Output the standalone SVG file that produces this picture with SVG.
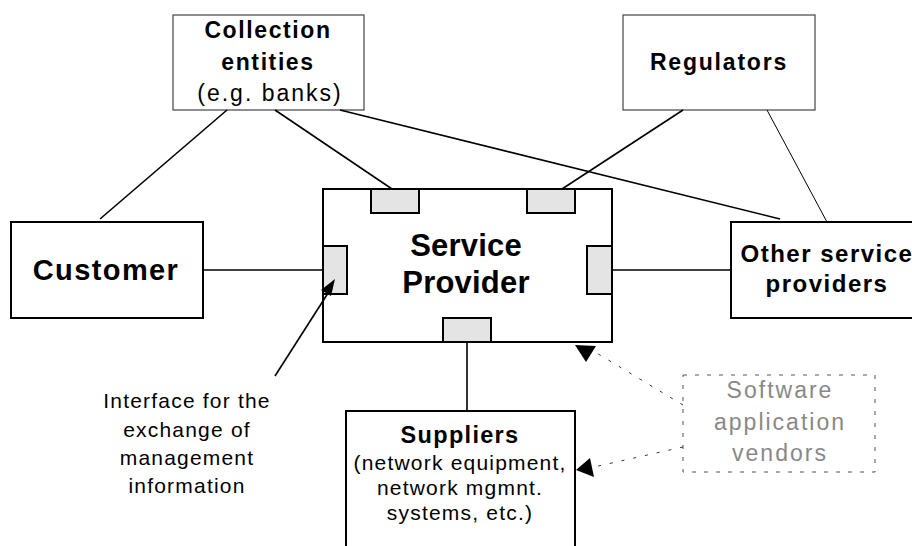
<svg xmlns="http://www.w3.org/2000/svg" width="912" height="546" viewBox="0 0 912 546">
<style>
text{font-family:"Liberation Sans",Arial,sans-serif;fill:#000;text-anchor:middle}
.b{font-weight:bold}
.box{fill:#fff;stroke:#000;stroke-width:2}
.thin{fill:#fff;stroke:#444;stroke-width:1.2}
.itf{fill:#e4e4e4;stroke:#000;stroke-width:2}
.ln{stroke:#000;stroke-width:1.6;fill:none}
.dash{stroke:#333;stroke-width:1;stroke-dasharray:3 9;fill:none}
.grey{fill:#888}
</style>
<g id="collection">
<rect class="thin" x="173" y="15" width="191" height="95"/>
<text class="b" x="268" y="38" font-size="23" letter-spacing="1.6">Collection</text>
<text class="b" x="268" y="70" font-size="23" letter-spacing="1.6">entities</text>
<text x="270" y="101" font-size="23" letter-spacing="2">(e.g. banks)</text>
</g>
<g id="regulators">
<rect class="thin" x="623" y="15" width="192" height="95"/>
<text class="b" x="719" y="70" font-size="23" letter-spacing="1.8">Regulators</text>
</g>
<g id="customer">
<rect class="box" x="11" y="222" width="192" height="96" stroke-width="1.5"/>
<text class="b" x="106" y="280" font-size="29" letter-spacing="1.4">Customer</text>
</g>
<g id="service-provider">
<rect class="box" x="323" y="189" width="289" height="153"/>
<rect class="itf" x="371" y="189" width="48" height="24"/>
<rect class="itf" x="527" y="189" width="48" height="24"/>
<rect class="itf" x="323" y="246" width="24" height="48"/>
<rect class="itf" x="587" y="246" width="25" height="48"/>
<rect class="itf" x="443" y="318" width="48" height="24"/>
<text class="b" x="466" y="256" font-size="31" letter-spacing="0.2">Service</text>
<text class="b" x="466" y="293" font-size="31" letter-spacing="0.2">Provider</text>
</g>
<g id="other-service-providers">
<rect class="box" x="731" y="222" width="200" height="96"/>
<text class="b" x="827" y="262" font-size="24" letter-spacing="1.5">Other service</text>
<text class="b" x="827" y="292" font-size="24" letter-spacing="1.5">providers</text>
</g>
<g id="suppliers">
<rect class="box" x="346" y="411" width="229" height="150"/>
<text class="b" x="460" y="443" font-size="23.5" letter-spacing="1.3">Suppliers</text>
<text x="460" y="470" font-size="21" letter-spacing="1.2">(network equipment,</text>
<text x="460" y="495" font-size="21" letter-spacing="1.2">network mgmnt.</text>
<text x="460" y="520" font-size="21" letter-spacing="1.2">systems, etc.)</text>
</g>
<g id="interface-label">
<text x="187" y="408" font-size="21" letter-spacing="1.2">Interface for the</text>
<text x="187" y="437" font-size="21" letter-spacing="1.2">exchange of</text>
<text x="187" y="465" font-size="21" letter-spacing="1.2">management</text>
<text x="187" y="493" font-size="21" letter-spacing="1.2">information</text>
</g>
<g id="software-vendors">
<rect x="683" y="375" width="192" height="97" fill="none" stroke="#555" stroke-width="1" stroke-dasharray="4 8"/>
<text class="grey" x="780" y="398" font-size="23" letter-spacing="2">Software</text>
<text class="grey" x="780" y="430" font-size="23" letter-spacing="2">application</text>
<text class="grey" x="780" y="461" font-size="23" letter-spacing="2">vendors</text>
</g>
<g id="connectors">
<line class="ln" x1="227" y1="110" x2="100" y2="219"/>
<line class="ln" x1="275" y1="110" x2="392" y2="189"/>
<line class="ln" x1="340" y1="110" x2="780" y2="219"/>
<line class="ln" x1="683" y1="110" x2="562" y2="189"/>
<line stroke="#000" stroke-width="1" x1="767" y1="110" x2="827" y2="222"/>
<line class="ln" x1="203" y1="270" x2="323" y2="270"/>
<line class="ln" x1="612" y1="270" x2="731" y2="270"/>
<line class="ln" x1="467" y1="342" x2="467" y2="411"/>
<line class="ln" x1="275" y1="376" x2="330" y2="290"/>
<polygon points="335,279 321,290 331,296" fill="#000"/>
<line class="dash" x1="683" y1="405" x2="595" y2="352"/>
<polygon points="575,345 596,346 586,362" fill="#000"/>
<line class="dash" x1="683" y1="447" x2="594" y2="467"/>
<polygon points="576,470 590,458 594,477" fill="#000"/>
</g>
</svg>
